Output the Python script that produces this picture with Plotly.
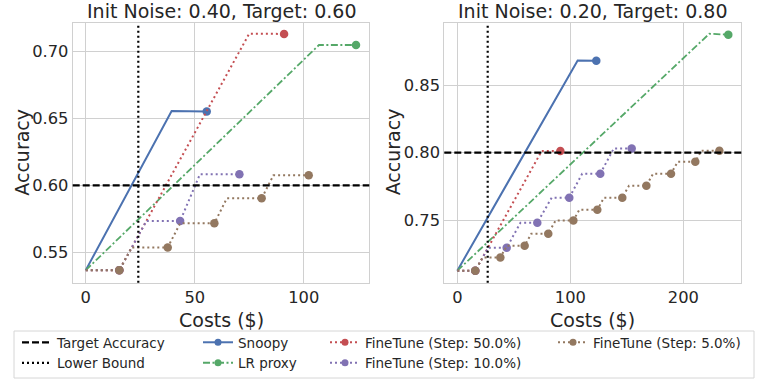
import plotly.graph_objects as go

# ---- data ----
# panel 1: Init Noise 0.40, Target 0.60
snoopy_x_1 = [0, 39.4, 55.5]
snoopy_y_1 = [0.5366, 0.6556, 0.6553]
lr_x_1 = [0, 107.0, 124.0]
lr_y_1 = [0.5366, 0.7050, 0.7050]
ft50_x_1 = [0, 15.4, 75.0, 91.0]
ft50_y_1 = [0.5366, 0.5366, 0.7135, 0.7133]
ft10_x_1 = [0, 15.4, 27.8, 43.3, 52.4, 70.5]
ft10_y_1 = [0.5366, 0.5366, 0.5733, 0.5733, 0.6084, 0.6083]
ft5_x_1 = [0, 15.4, 21.1, 37.6, 43.3, 59.0, 64.7, 80.7, 86.1, 102.3]
ft5_y_1 = [0.5366, 0.5366, 0.5536, 0.5536, 0.5716, 0.5716, 0.5903, 0.5903, 0.6075, 0.6075]
target_1 = 0.60
lower_bound_1 = 24.1

# panel 2: Init Noise 0.20, Target 0.80
snoopy_x_2 = [0, 106.5, 123.0]
snoopy_y_2 = [0.7124, 0.8685, 0.8683]
lr_x_2 = [0, 223.0, 239.8]
lr_y_2 = [0.7124, 0.8883, 0.8876]
ft50_x_2 = [0, 15.9, 74.7, 91.2]
ft50_y_2 = [0.7124, 0.7124, 0.8013, 0.8013]
ft10_x_2 = [0, 15.9, 27.4, 43.7, 55.9, 70.8, 83.5, 99.1, 110.5, 126.5, 138.5, 154.3]
ft10_y_2 = [0.7124, 0.7124, 0.7295, 0.7295, 0.7480, 0.7480, 0.7666, 0.7666,
            0.7844, 0.7844, 0.8032, 0.8032]
ft5_x_2 = [0, 15.9, 22.4, 38.1, 43.9, 59.6, 65.5, 80.5, 87.0, 102.7, 108.0,
           123.9, 129.8, 146.0, 151.9, 167.3, 173.2, 189.1, 195.0, 210.6, 216.0, 231.9]
ft5_y_2 = [0.7124, 0.7124, 0.7222, 0.7222, 0.7310, 0.7310, 0.7399, 0.7399,
           0.7497, 0.7497, 0.7577, 0.7577, 0.7666, 0.7666, 0.7755, 0.7755,
           0.7844, 0.7844, 0.7933, 0.7933, 0.8015, 0.8015]
target_2 = 0.80
lower_bound_2 = 26.9

titles = ["Init Noise: 0.40, Target: 0.60", "Init Noise: 0.20, Target: 0.80"]
y_ticks_1 = [0.55, 0.60, 0.65, 0.70]
y_ticks_2 = [0.75, 0.80, 0.85]
x_ticks_1 = [0, 50, 100]
x_ticks_2 = [0, 100, 200]

BLUE, GREEN, RED, PURPLE, BROWN = "#4C72B0", "#55A868", "#C44E52", "#8172B3", "#937860"
TXT = "#262626"
GRID = "#d0d0d0"
FONT = "DejaVu Sans"
W, H = 767, 384


def px_x(p):
    return p / W


def px_y(p):
    return 1 - p / H


panels = [
    dict(snoopy=(snoopy_x_1, snoopy_y_1), lr=(lr_x_1, lr_y_1), ft50=(ft50_x_1, ft50_y_1),
         ft10=(ft10_x_1, ft10_y_1), ft5=(ft5_x_1, ft5_y_1), target=target_1,
         lb=lower_bound_1, xr=[-6.0, 130.1], yr=[0.5272, 0.7217],
         xt=x_ticks_1, yt=y_ticks_1, dom=(72.7, 369.3)),
    dict(snoopy=(snoopy_x_2, snoopy_y_2), lr=(lr_x_2, lr_y_2), ft50=(ft50_x_2, ft50_y_2),
         ft10=(ft10_x_2, ft10_y_2), ft5=(ft5_x_2, ft5_y_2), target=target_2,
         lb=lower_bound_2, xr=[-11.5, 251.3], yr=[0.7035, 0.8965],
         xt=x_ticks_2, yt=y_ticks_2, dom=(444.3, 741.3)),
]

fig = go.Figure()
MS = 8.5
top, bottom = 22.7, 282.7

for i, p in enumerate(panels):
    xa = "x" if i == 0 else "x2"
    ya = "y" if i == 0 else "y2"

    def line(xy, color, dash, width, markers):
        x, y = xy
        fig.add_trace(go.Scatter(x=x, y=y, mode="lines", xaxis=xa, yaxis=ya,
                                 line=dict(color=color, dash=dash, width=width),
                                 showlegend=False, hoverinfo="skip"))
        mx = [x[k] for k in markers]
        my = [y[k] for k in markers]
        fig.add_trace(go.Scatter(x=mx, y=my, mode="markers", xaxis=xa, yaxis=ya,
                                 marker=dict(color=color, size=MS), showlegend=False,
                                 hoverinfo="skip"))

    line(p["snoopy"], BLUE, "solid", 2, [-1])
    line(p["lr"], GREEN, "7px,2.5px,2px,2.5px", 1.8, [-1])
    for key, col in [("ft50", RED), ("ft10", PURPLE), ("ft5", BROWN)]:
        n = len(p[key][0])
        line(p[key], col, "2px,3px", 2, list(range(1, n, 2)))

    # target and lower bound reference lines
    fig.add_shape(type="line", xref=f"{xa} domain", yref=ya, x0=0, x1=1,
                  y0=p["target"], y1=p["target"],
                  line=dict(color="black", width=2.2, dash="7px,3px"))
    fig.add_shape(type="line", xref=xa, yref=f"{ya} domain", x0=p["lb"], x1=p["lb"],
                  y0=0, y1=1,
                  line=dict(color="black", width=2.2, dash="2px,3px"))

    axis_common = dict(showgrid=True, gridcolor=GRID, gridwidth=1, showline=True,
                       linecolor=GRID, linewidth=1, mirror=True, ticks="",
                       zeroline=False, tickfont=dict(size=16.3, color=TXT, family=FONT))
    fig.update_layout(**{
        ("xaxis" if i == 0 else "xaxis2"): dict(
            axis_common, domain=[px_x(p["dom"][0]), px_x(p["dom"][1])], range=p["xr"],
            tickvals=p["xt"], anchor=ya),
        ("yaxis" if i == 0 else "yaxis2"): dict(
            axis_common, domain=[px_y(bottom), px_y(top)], range=p["yr"],
            tickvals=p["yt"], tickformat=".2f", anchor=xa),
    })

    cx = (p["dom"][0] + p["dom"][1]) / 2
    txt = dict(xref="paper", yref="paper", showarrow=False, xanchor="center",
               yanchor="middle", font=dict(size=19, color=TXT, family=FONT))
    fig.add_annotation(text=titles[i], x=px_x(cx), y=px_y(10.5), **txt)
    fig.add_annotation(text="Costs ($)", x=px_x(cx), y=px_y(320), **txt)
    fig.add_annotation(text="Accuracy", x=px_x(p["dom"][0] - 51), y=px_y(152),
                       textangle=-90, **txt)

# ---- legend (four columns, like the matplotlib one) ----
legend_items = [
    ("Target Accuracy", "black", "7px,3px", False, "legend"),
    ("Lower Bound", "black", "2px,3px", False, "legend"),
    ("Snoopy", BLUE, "solid", True, "legend2"),
    ("LR proxy", GREEN, "7px,2.5px,2px,2.5px", True, "legend2"),
    ("FineTune (Step: 50.0%)", RED, "2px,3px", True, "legend3"),
    ("FineTune (Step: 10.0%)", PURPLE, "2px,3px", True, "legend3"),
    ("FineTune (Step: 5.0%)", BROWN, "2px,3px", True, "legend4"),
]
for name, col, dash, mk, leg in legend_items:
    fig.add_trace(go.Scatter(x=[None], y=[None], name=name, legend=leg,
                             mode="lines+markers" if mk else "lines",
                             line=dict(color=col, dash=dash, width=2 if mk else 2.2),
                             marker=dict(color=col, size=7)))

leg_common = dict(orientation="v", yanchor="top", xanchor="left", bgcolor="rgba(0,0,0,0)",
                  borderwidth=0, font=dict(size=13.5, color=TXT, family=FONT),
                  itemwidth=30, tracegroupgap=0)
leg_y = px_y(327)
fig.update_layout(
    legend=dict(leg_common, x=px_x(17), y=leg_y),
    legend2=dict(leg_common, x=px_x(198), y=leg_y),
    legend3=dict(leg_common, x=px_x(325), y=leg_y),
    legend4=dict(leg_common, x=px_x(553), y=leg_y),
)
fig.add_shape(type="rect", xref="paper", yref="paper", x0=px_x(14), x1=px_x(754),
              y0=px_y(378), y1=px_y(331), line=dict(color="#d6d6d6", width=1),
              fillcolor="rgba(0,0,0,0)", layer="above")

fig.update_layout(width=W, height=H, margin=dict(l=0, r=0, t=0, b=0),
                  plot_bgcolor="white", paper_bgcolor="white",
                  font=dict(family=FONT, color=TXT))
fig.write_html("out.html", config={"displayModeBar": False},
               post_script="document.body.style.margin='0px';")
